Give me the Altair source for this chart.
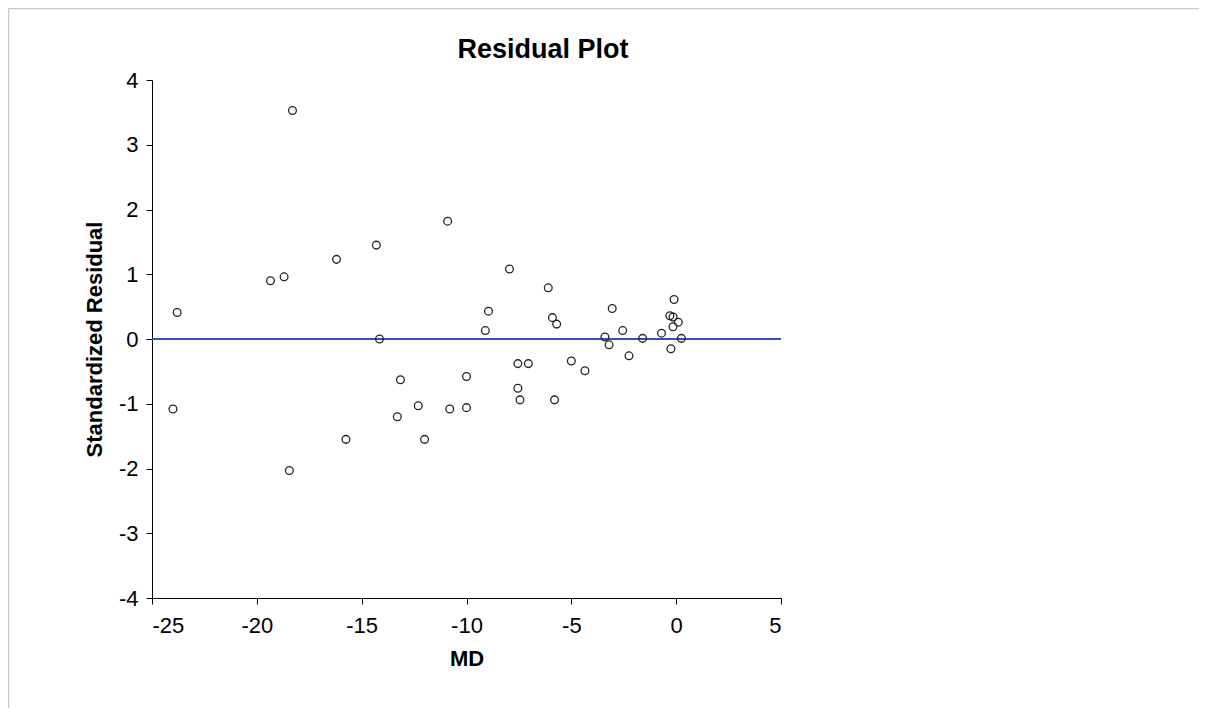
import altair as alt
import pandas as pd

md = [-24.0, -23.8, -19.35, -18.7, -18.3, -18.45, -16.2, -15.75, -14.3, -14.15,
      -13.15, -13.3, -12.3, -12.0, -10.9, -10.8, -10.0, -10.0, -9.1, -8.95,
      -7.95, -7.55, -7.05, -7.55, -7.45, -6.1, -5.9, -5.7, -5.8, -5.0,
      -4.35, -3.4, -3.2, -3.05, -2.55, -2.25, -1.6, -0.7, -0.3, -0.15,
      -0.1, 0.1, -0.15, 0.25, -0.25]
std_resid = [-1.08, 0.41, 0.90, 0.96, 3.53, -2.03, 1.23, -1.55, 1.45, 0.0,
             -0.63, -1.20, -1.03, -1.55, 1.82, -1.08, -0.58, -1.06, 0.13, 0.43,
             1.08, -0.38, -0.38, -0.76, -0.94, 0.79, 0.33, 0.23, -0.94, -0.34,
             -0.49, 0.03, -0.09, 0.47, 0.13, -0.26, 0.01, 0.09, 0.36, 0.34,
             0.61, 0.26, 0.19, 0.01, -0.15]
x_ticks = [-25, -20, -15, -10, -5, 0, 5]
y_ticks = [-4, -3, -2, -1, 0, 1, 2, 3, 4]
title_text = "Residual Plot"

df = pd.DataFrame({"MD": md, "Standardized Residual": std_resid})
FONT = "Liberation Sans, Arial, sans-serif"

W, H = 629, 518
PL, PT = 144, 72
TOTAL_W, TOTAL_H = 1191, 700

LABEL_EXPR = "datum.value < 0 ? '-' + abs(datum.value) : '' + datum.value"

xscale = alt.Scale(domain=[x_ticks[0], x_ticks[-1]], nice=False, zero=False)
yscale = alt.Scale(domain=[y_ticks[0], y_ticks[-1]], nice=False, zero=False)

points = alt.Chart(df).mark_point(
    shape="circle", filled=False, color="#222222", size=60, strokeWidth=1.3, opacity=1
).encode(
    x=alt.X("MD:Q", scale=xscale, title="MD",
            axis=alt.Axis(values=x_ticks, labelExpr=LABEL_EXPR, labelPadding=11,
                          titlePadding=12)),
    y=alt.Y("Standardized Residual:Q", scale=yscale, title="Standardized Residual",
            axis=alt.Axis(values=y_ticks, labelExpr=LABEL_EXPR, labelPadding=8,
                          titlePadding=12)),
)

zero_line = alt.Chart(pd.DataFrame({"z": [0]})).mark_rule(
    color="#3050c0", strokeWidth=2
).encode(y=alt.Y("z:Q", scale=yscale))

frame_df = pd.DataFrame({"k": [0]})
frame_top = alt.Chart(frame_df).mark_rule(color="#c8c8c8", strokeWidth=1.5).encode(
    x=alt.value(-PL + 0.5), x2=alt.value(TOTAL_W - PL), y=alt.value(-PT + 0.5), y2=alt.value(-PT + 0.5)
)
frame_left = alt.Chart(frame_df).mark_rule(color="#c8c8c8", strokeWidth=1.5).encode(
    x=alt.value(-PL + 0.5), x2=alt.value(-PL + 0.5), y=alt.value(-PT + 0.5), y2=alt.value(TOTAL_H - PT)
)

title = alt.Chart(frame_df).mark_text(
    font=FONT, fontSize=27, fontWeight="bold", color="black",
    align="center", baseline="alphabetic"
).encode(x=alt.value(391), y=alt.value(-22), text=alt.value(title_text))

chart = alt.layer(frame_top, frame_left, zero_line, points, title).properties(
    width=W, height=H,
    autosize=alt.AutoSizeParams(type="none"),
    padding={"left": PL, "top": PT, "right": TOTAL_W - PL - W, "bottom": TOTAL_H - PT - H},
    background="white",
).configure_view(stroke=None).configure_axis(
    grid=False, domainColor="black", domainWidth=1, tickColor="black", tickSize=6,
    labelFont=FONT, labelFontSize=22, labelColor="black",
    titleFont=FONT, titleFontSize=22, titleFontWeight="bold", titleColor="black",
)

chart.save("out.html", embed_options={"renderer": "svg", "actions": False})
